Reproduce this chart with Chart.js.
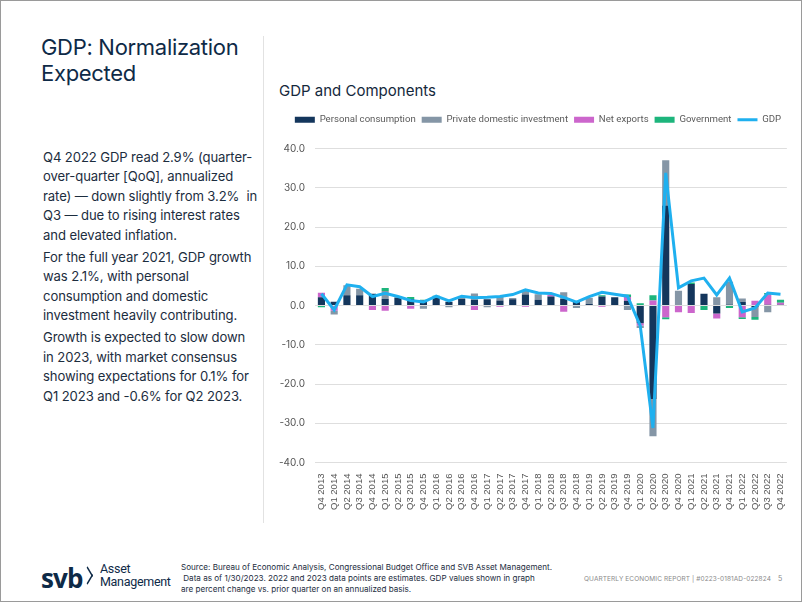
<!DOCTYPE html>
<html>
<head>
<meta charset="utf-8">
<script src="https://cdn.jsdelivr.net/npm/chart.js@4/dist/chart.umd.min.js"></script>
<style>
  body { margin: 0; background: #fff; font-family: Inter, "Open Sans", sans-serif; }
  .slide { position: relative; width: 800px; height: 600px; border: 1px solid #9a9a9a; overflow: hidden; }
  .title { position: absolute; left: 40px; top: 33px; font-size: 22px; line-height: 26px; color: #0e2a47; letter-spacing: -0.3px; }
  .divider { position: absolute; left: 262px; top: 35px; width: 1px; height: 487px; background: #e2e2e2; }
  .body { position: absolute; left: 42px; top: 146.5px; width: 240px; font-size: 13.1px; line-height: 19.5px; color: #1c2d3e; white-space: nowrap; letter-spacing: -0.1px; }
  .body p { margin: 0 0 2.5px 0; }
  .ctitle { position: absolute; left: 278px; top: 80px; font-size: 15px; color: #14283c; }
  .wrap { position: absolute; left: 268px; top: 108px; width: 526px; height: 404px; }
  .logo { position: absolute; left: 40px; top: 560px; color: #0e2a47; }
  .logo .svb { position: absolute; left: 0; top: -1px; font-size: 26px; font-weight: 700; letter-spacing: -0.8px; font-family: "Open Sans", sans-serif; }
  .logo .chev { position: absolute; left: 40px; top: 8px; width: 11px; height: 11px; border-top: 2.4px solid #0e2a47; border-right: 2.4px solid #0e2a47; transform: scaleX(0.6) rotate(45deg); }
  .logo .am { position: absolute; left: 59px; top: 2px; font-size: 12.5px; line-height: 12.5px; font-family: Roboto, sans-serif; letter-spacing: -0.3px; }
  .src { position: absolute; left: 180px; top: 561px; font-size: 8.1px; line-height: 11px; color: #1c2d3e; white-space: nowrap; }
  .rep { position: absolute; left: 583px; top: 574px; font-size: 6.5px; color: #8a8a8a; letter-spacing: 0.1px; }
  .pg { position: absolute; left: 777px; top: 573px; font-size: 7px; color: #8a8a8a; }
</style>
</head>
<body>
<div class="slide">
  <div class="title">GDP: Normalization<br>Expected</div>
  <div class="divider"></div>
  <div class="body">
    <p>Q4 2022 GDP read 2.9% (quarter-<br>over-quarter [QoQ], annualized<br>rate) — down slightly from 3.2%&nbsp; in<br>Q3 — due to rising interest rates<br>and elevated inflation.</p>
    <p>For the full year 2021, GDP growth<br>was 2.1%, with personal<br>consumption and domestic<br>investment heavily contributing.</p>
    <p>Growth is expected to slow down<br>in 2023, with market consensus<br>showing expectations for 0.1% for<br>Q1 2023 and -0.6% for Q2 2023.</p>
  </div>
  <div class="ctitle">GDP and Components</div>
  <div class="wrap"><canvas id="gdpChart"></canvas></div>
  <div class="logo"><span class="svb">svb</span><span class="chev"></span><span class="am">Asset<br>Management</span></div>
  <div class="src">Source: Bureau of Economic Analysis, Congressional Budget Office and SVB Asset Management.<br>&nbsp;Data as of 1/30/2023. 2022 and 2023 data points are estimates. GDP values shown in graph<br>are percent change vs. prior quarter on an annualized basis.</div>
  <div class="rep">QUARTERLY ECONOMIC REPORT | #0223-0181AD-022824</div>
  <div class="pg">5</div>
</div>
<script>
const quarters = ['Q4 2013', 'Q1 2014', 'Q2 2014', 'Q3 2014', 'Q4 2014', 'Q1 2015', 'Q2 2015', 'Q3 2015',
  'Q4 2015', 'Q1 2016', 'Q2 2016', 'Q3 2016', 'Q4 2016', 'Q1 2017', 'Q2 2017', 'Q3 2017', 'Q4 2017',
  'Q1 2018', 'Q2 2018', 'Q3 2018', 'Q4 2018', 'Q1 2019', 'Q2 2019', 'Q3 2019', 'Q4 2019', 'Q1 2020',
  'Q2 2020', 'Q3 2020', 'Q4 2020', 'Q1 2021', 'Q2 2021', 'Q3 2021', 'Q4 2021', 'Q1 2022', 'Q2 2022',
  'Q3 2022', 'Q4 2022'];

const consumption = [2.1, 1.0, 2.6, 2.6, 3.0, 1.7, 1.9, 1.7, 1.3, 2.0, 1.0, 1.7, 1.4, 1.6, 1.3, 1.6, 2.8,
  1.5, 2.3, 1.7, 0.9, 0.4, 2.3, 2.1, 1.2, -4.5, -23.8, 25.5, 0.0, 5.5, 3.0, -2.0, 0.3, 0.9, -0.4, 0.2, 0.2];
const investment = [0.0, -1.0, 2.6, 1.7, 0.0, 2.0, 0.3, 0.0, -0.8, 0.0, -0.4, 0.3, 1.7, -0.4, 1.0, 0.3, 1.0,
  1.4, 0.0, 1.7, -0.6, 1.6, 0.0, 0.0, -1.1, -0.6, -9.5, 11.5, 3.8, 0.0, 0.0, 2.1, 5.8, 0.9, -2.5, -1.7, 0.0];
const netExports = [1.2, -1.3, 0.0, 0.0, -1.1, -1.3, 0.0, -0.8, 0.0, 0.0, 0.0, 0.0, -1.1, 0.0, -0.3, 0.0, -0.3,
  0.0, 0.4, -1.6, 0.0, 0.0, -0.3, 0.0, 1.0, -0.6, 1.3, -3.0, -1.7, -1.9, 0.0, -1.3, 0.0, -3.0, 1.2, 2.6, 0.5];
const government = [-0.4, 0.0, 0.0, 0.0, 0.0, 0.8, 0.0, 0.5, 0.2, 0.5, 0.0, 0.0, 0.0, 0.0, 0.0, 0.0, 0.0,
  0.0, 0.0, 0.0, 0.0, 0.0, 0.3, 0.0, 0.6, 0.6, 1.3, -0.5, 0.0, 0.4, -1.1, 0.0, -0.6, -0.4, -0.7, 0.4, 0.8];
const gdp = [3.0, -1.1, 5.3, 4.8, 2.3, 3.1, 2.3, 1.3, 0.9, 2.4, 1.2, 2.4, 2.0, 2.1, 2.3, 2.8, 4.0,
  3.2, 3.1, 2.1, 0.9, 2.3, 3.4, 2.9, 2.4, -5.1, -31.2, 33.8, 4.5, 6.3, 7.0, 2.7, 7.0, -1.6, -0.6, 3.2, 2.9];

const yTicks = [-40, -30, -20, -10, 0, 10, 20, 30, 40];

function barSet(label, data, color, order) {
  return {
    type: 'bar', label: label, data: data, backgroundColor: color, borderWidth: 0,
    stack: 'parts', order: order, pointStyle: 'rect',
    barPercentage: 0.56, categoryPercentage: 1.0
  };
}

// extra space under the legend, and nudge it right a little
const legendTweak = {
  id: 'legendTweak',
  beforeInit(chart) {
    const lg = chart.legend;
    const fit = lg.fit;
    lg.fit = function() { fit.call(this); this.height += 14; };
    const draw = lg.draw;
    lg.draw = function() {
      this.ctx.save();
      this.ctx.translate(10, 0);
      draw.call(this);
      this.ctx.restore();
    };
  }
};

const ctx = document.getElementById('gdpChart').getContext('2d');
new Chart(ctx, {
  data: {
    labels: quarters,
    datasets: [
      barSet('Personal consumption', consumption, '#14365c', 1),
      barSet('Private domestic investment', investment, '#8596a6', 3),
      barSet('Net exports', netExports, '#cc66cc', 2),
      barSet('Government', government, '#1db57c', 4),
      {
        type: 'line', label: 'GDP', data: gdp, borderColor: '#1fb0ef', backgroundColor: '#1fb0ef',
        borderWidth: 3, pointRadius: 0, tension: 0, stack: 'total', order: 0, pointStyle: 'line'
      }
    ]
  },
  options: {
    responsive: true,
    maintainAspectRatio: false,
    animation: false,
    layout: { padding: { top: 0, right: 8, bottom: 0, left: 0 } },
    plugins: {
      legend: {
        position: 'top',
        labels: {
          usePointStyle: true, pointStyleWidth: 20, boxHeight: 6, padding: 6,
          color: '#5a5a5a', font: { family: 'Roboto', size: 9.6 },
          sort: (a, b) => a.datasetIndex - b.datasetIndex
        }
      },
      tooltip: { enabled: false }
    },
    scales: {
      x: {
        stacked: true,
        grid: { display: false },
        border: { display: false },
        ticks: { autoSkip: false, minRotation: 90, maxRotation: 90, color: '#555', font: { family: 'Liberation Sans', size: 9.5 } }
      },
      y: {
        stacked: true,
        min: -40, max: 40,
        afterBuildTicks: axis => { axis.ticks = yTicks.map(v => ({ value: v })); },
        grid: { color: '#dedede', lineWidth: 1, drawTicks: false },
        border: { display: false },
        ticks: { padding: 10, color: '#555', font: { family: 'Inter', size: 10 }, callback: v => Number(v).toFixed(1) }
      }
    }
  },
  plugins: [legendTweak]
});
</script>
</body>
</html>
